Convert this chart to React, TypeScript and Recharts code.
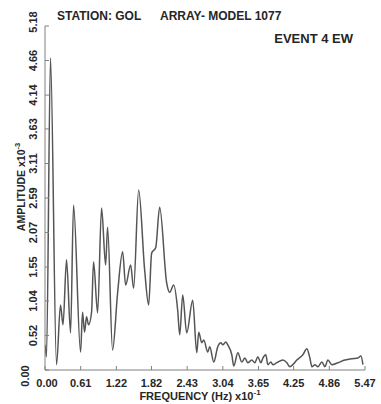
import React from 'react';
import { LineChart, Line, XAxis, YAxis } from 'recharts';

const frequency = [
  0.0, 0.026, 0.094, 0.197, 0.265, 0.308, 0.368, 0.437, 0.488, 0.608,
  0.642, 0.676, 0.71, 0.745, 0.796, 0.83, 0.899, 0.967, 1.036, 1.07,
  1.155, 1.241, 1.327, 1.378, 1.464, 1.515, 1.601, 1.703, 1.772, 1.823,
  1.892, 1.96, 2.08, 2.131, 2.2, 2.268, 2.303, 2.354, 2.422, 2.525,
  2.594, 2.628, 2.679, 2.714, 2.782, 2.816, 2.885, 2.953, 3.005, 3.039,
  3.09, 3.124, 3.193, 3.227, 3.296, 3.364, 3.416, 3.467, 3.535, 3.587,
  3.638, 3.69, 3.724, 3.775, 3.809, 3.861, 3.895, 3.963, 4.066, 4.134,
  4.186, 4.237, 4.305, 4.408, 4.476, 4.528, 4.562, 4.614, 4.665, 4.733,
  4.785, 4.836, 4.904, 5.007, 5.127, 5.247, 5.349, 5.4, 5.435,
];

const amplitude = [
  0.38, 0.2, 4.7, 0.08, 0.98, 0.68, 1.66, 0.56, 2.48, 0.27,
  0.87, 0.57, 0.8, 0.68, 0.87, 1.63, 0.86, 2.44, 1.58, 2.15,
  0.3, 1.16, 1.78, 1.28, 1.58, 1.23, 2.71, 1.51, 0.98, 1.76,
  1.84, 2.45, 1.31, 1.17, 1.28, 0.9, 0.53, 1.13, 0.56, 1.05,
  0.26, 0.57, 0.41, 0.45, 0.27, 0.35, 0.12, 0.35, 0.41, 0.38,
  0.42, 0.38, 0.23, 0.06, 0.26, 0.12, 0.18, 0.11, 0.15, 0.11,
  0.2, 0.11, 0.18, 0.23, 0.08, 0.12, 0.08, 0.11, 0.15, 0.11,
  0.05, 0.08, 0.15, 0.23, 0.32, 0.18, 0.05, 0.08, 0.05, 0.12,
  0.05, 0.15, 0.08, 0.11, 0.15, 0.17, 0.18, 0.21, 0.08,
];

const xTicks = [0, 0.61, 1.22, 1.82, 2.43, 3.04, 3.65, 4.25, 4.86, 5.47];
const yTicks = [0, 0.52, 1.04, 1.55, 2.07, 2.59, 3.11, 3.63, 4.14, 4.66, 5.18];

const stationText = 'STATION: GOL';
const modelText = 'ARRAY- MODEL 1077';
const eventText = 'EVENT 4 EW';
const yTitle = 'AMPLITUDE x10';
const yTitleExp = '-3';
const xTitle = 'FREQUENCY (Hz) x10';
const xTitleExp = '-1';

const data = frequency.map((f, i) => ({ f, a: amplitude[i] }));

const FONT = "'Liberation Sans', Arial, Helvetica, sans-serif";
const INK = '#262626';
const FRAME = '#808080';
const TICK = 4;

const BottomTick = (props: any) => {
  const { x, y, payload, index } = props;
  const dx = index === 0 ? 2 : 0;
  return (
    <g>
      <line x1={x} x2={x} y1={y} y2={y - TICK} stroke={FRAME} strokeWidth={1} />
      <text x={x + dx} y={y + 17} textAnchor="middle" fontFamily={FONT} fontSize={11} fontWeight="bold" fill={INK}>
        {Number(payload.value).toFixed(2)}
      </text>
    </g>
  );
};

const LeftTick = (props: any) => {
  const { x, y, payload } = props;
  const v = Number(payload.value);
  let cx = 33;
  let cy = y;
  if (v === 0) {
    cx = 25;
    cy = y + 6;
  } else if (v === 5.18) {
    cy = y - 4;
  }
  return (
    <g>
      <line x1={x} x2={x + TICK} y1={y} y2={y} stroke={FRAME} strokeWidth={1} />
      <text
        x={cx}
        y={cy}
        textAnchor="middle"
        dominantBaseline="central"
        transform={`rotate(-90 ${cx} ${cy})`}
        fontFamily={FONT}
        fontSize={11}
        fontWeight="bold"
        fill={INK}
      >
        {v.toFixed(2)}
      </text>
    </g>
  );
};

const TopTick = (props: any) => {
  const { x, y } = props;
  return <line x1={x} x2={x} y1={y} y2={y + TICK} stroke={FRAME} strokeWidth={1} />;
};

const RightTick = (props: any) => {
  const { x, y } = props;
  return <line x1={x} x2={x - TICK} y1={y} y2={y} stroke={FRAME} strokeWidth={1} />;
};

export default function App() {
  return (
    <div style={{ position: 'absolute', left: 0, top: 0, width: 381, height: 404, background: '#ffffff' }}>
      <LineChart width={381} height={404} data={data} margin={{ top: 26, right: 16, left: 0, bottom: 4 }}>
        <XAxis
          xAxisId="b"
          dataKey="f"
          type="number"
          domain={[0, 5.47]}
          ticks={xTicks}
          interval={0}
          height={30}
          tickSize={0}
          tickMargin={0}
          tickLine={false}
          axisLine={{ stroke: FRAME, strokeWidth: 1 }}
          tick={<BottomTick />}
          allowDataOverflow
        />
        <XAxis
          xAxisId="t"
          orientation="top"
          dataKey="f"
          type="number"
          domain={[0, 5.47]}
          ticks={xTicks}
          interval={0}
          height={0}
          tickSize={0}
          tickMargin={0}
          tickLine={false}
          axisLine={{ stroke: FRAME, strokeWidth: 1 }}
          tick={<TopTick />}
          allowDataOverflow
        />
        <YAxis
          yAxisId="l"
          type="number"
          domain={[0, 5.18]}
          ticks={yTicks}
          interval={0}
          width={45}
          tickSize={0}
          tickMargin={0}
          tickLine={false}
          axisLine={{ stroke: FRAME, strokeWidth: 1 }}
          tick={<LeftTick />}
          allowDataOverflow
        />
        <YAxis
          yAxisId="r"
          orientation="right"
          type="number"
          domain={[0, 5.18]}
          ticks={yTicks}
          interval={0}
          width={0}
          tickSize={0}
          tickMargin={0}
          tickLine={false}
          axisLine={{ stroke: FRAME, strokeWidth: 1 }}
          tick={<RightTick />}
          allowDataOverflow
        />
        <Line
          xAxisId="b"
          yAxisId="l"
          type="monotone"
          dataKey="a"
          stroke="#555555"
          strokeWidth={1.5}
          dot={false}
          isAnimationActive={false}
        />
      </LineChart>
      <svg width={381} height={404} style={{ position: 'absolute', left: 0, top: 0, pointerEvents: 'none' }}>
        <text x={57} y={20} fontFamily={FONT} fontSize={12} fontWeight="bold" fill={INK}>{stationText}</text>
        <text x={160} y={20} fontFamily={FONT} fontSize={12} fontWeight="bold" fill={INK}>{modelText}</text>
        <text x={353} y={43} textAnchor="end" fontFamily={FONT} fontSize={13} fontWeight="bold" fill={INK}>{eventText}</text>
        <text
          x={21}
          y={187}
          textAnchor="middle"
          dominantBaseline="central"
          transform="rotate(-90 21 187)"
          fontFamily={FONT}
          fontSize={10.5}
          fontWeight="bold"
          fill={INK}
        >
          {yTitle}
          <tspan fontSize={7.5} dy={-4}>{yTitleExp}</tspan>
        </text>
        <text x={200} y={400} textAnchor="middle" fontFamily={FONT} fontSize={11} fontWeight="bold" fill={INK}>
          {xTitle}
          <tspan fontSize={8} dy={-5}>{xTitleExp}</tspan>
        </text>
      </svg>
    </div>
  );
}
